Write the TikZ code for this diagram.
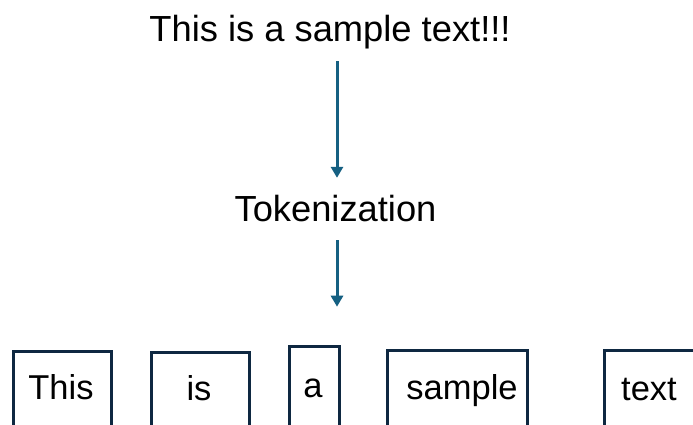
\documentclass[tikz,border=0pt]{standalone}
\usepackage{fontspec}
\setmainfont{Liberation Sans}
\usetikzlibrary{arrows.meta}
\definecolor{flowblue}{HTML}{156082}
\definecolor{boxnavy}{HTML}{0E2841}
\tikzset{
  heading/.style={inner sep=0pt, anchor=base, text height=27bp, text depth=8bp,
                  font=\fontsize{36.3bp}{40bp}\selectfont},
  word/.style={inner sep=0pt, anchor=base, font=\fontsize{34.5bp}{38bp}\selectfont},
  tokenbox/.style={draw=boxnavy, line width=3bp, inner sep=0pt, anchor=north west},
  flow/.style={draw=flowblue, line width=3bp,
               -{Triangle[width=12bp,length=11bp]}},
}
\begin{document}
\begin{tikzpicture}[x=1bp, y=-1bp]
  \clip (0,0) rectangle (693,424);
  \fill[white] (0,0) rectangle (693,424);

  % pipeline labels
  \node[heading] (title) at (330,41.7) {This is a sample text!!!};
  \node[heading] (tok)   at (335.5,221.7) {Tokenization};
  \coordinate (axis) at (337,0);
  \coordinate (flowend) at (337,306.7);

  \draw[flow, shorten <=11.3bp, shorten >=16.7bp]
    (title.south -| axis) -- (tok.north -| axis);
  \draw[flow, shorten <=10.3bp] (tok.south -| axis) -- (flowend);

  % token boxes (open at the lower edge)
  \node[tokenbox, minimum width=98bp, minimum height=90bp]  (b1) at (12,350) {};
  \node[tokenbox, minimum width=98bp, minimum height=90bp]  (b2) at (150,351) {};
  \node[tokenbox, minimum width=50bp, minimum height=95bp]  (b3) at (288,345) {};
  \node[tokenbox, minimum width=140bp, minimum height=90bp] (b4) at (386,349) {};
  \node[tokenbox, minimum width=120bp, minimum height=90bp] (b5) at (603,349) {};

  % token words
  \node[word] (w1) at (61,399) {This};
  \node[word] (w2) at (199,400) {is};
  \node[word] (w3) at (313,397) {a};
  \node[word] (w4) at (462,399) {sample};
  \node[word] (w5) at (649,400) {text};
\end{tikzpicture}
\end{document}
